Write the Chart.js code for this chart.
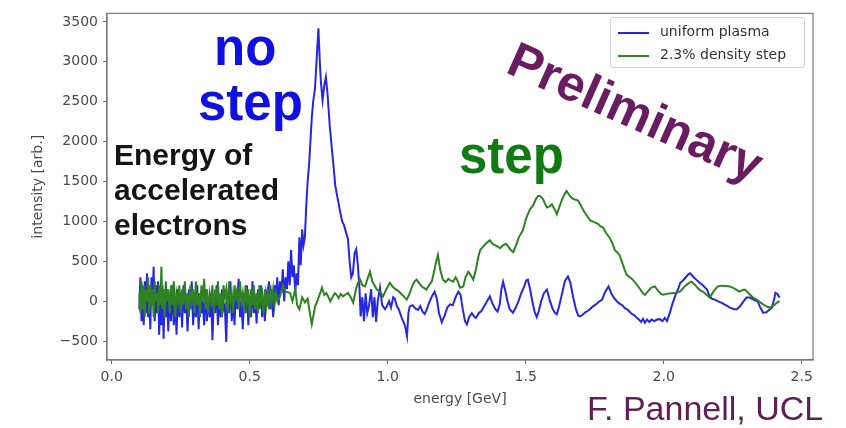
<!DOCTYPE html>
<html>
<head>
<meta charset="utf-8">
<script src="https://cdn.jsdelivr.net/npm/chart.js@4.4.1/dist/chart.umd.min.js"></script>
<style>
    body { margin: 0; background: #fff; }
    #wrap { position: relative; width: 846px; height: 428px; overflow: hidden; }
    .note { position: absolute; font-family: "Liberation Sans", Arial, sans-serif; font-weight: bold; white-space: nowrap; }
    #legend { position: absolute; left: 610px; top: 17px; width: 193px; height: 49px; border: 1px solid #d0d0d0; border-radius: 3px; background: rgba(255,255,255,0.85); font-family: "DejaVu Sans", sans-serif; font-size: 14px; color: #333; }
    .item { position: absolute; left: 7px; height: 20px; }
    .item span.line { position: absolute; left: 0; top: 9px; width: 31px; height: 2px; }
    .item span.txt { position: absolute; left: 42px; top: 0; white-space: nowrap; }
</style>
</head>
<body>
<div id="wrap">
    <canvas id="chart" width="846" height="428"></canvas>
    <div id="legend"></div>
    <div class="note" style="left:214px; top:18px; font-size:51px; color:#1010e0;">no</div>
    <div class="note" style="left:198px; top:73px; font-size:51px; color:#1010e0;">step</div>
    <div class="note" style="left:114px; top:137px; font-size:30px; line-height:35px; color:#151515;">Energy of<br>accelerated<br>electrons</div>
    <div class="note" style="left:459px; top:126px; font-size:51px; color:#127a12;">step</div>
    <div class="note" style="left:523px; top:30px; font-size:50px; color:#6a1c60; transform: rotate(24deg); transform-origin: 0 0;">Preliminary</div>
    <div class="note" style="left:587px; top:389px; font-size:34px; font-weight:normal; color:#5e1f55;">F. Pannell, UCL</div>
</div>
<script>
// uniform plasma (blue)
const blueE = [0.100,0.104,0.108,0.112,0.116,0.120,0.124,0.128,0.132,0.136,0.140,0.144,0.148,0.152,0.156,0.160,0.164,0.168,0.172,0.176,
    0.180,0.184,0.188,0.192,0.196,0.200,0.205,0.210,0.215,0.220,0.225,0.230,0.235,0.240,0.245,0.250,0.255,0.260,0.265,0.270,
    0.275,0.280,0.285,0.290,0.295,0.300,0.305,0.310,0.315,0.320,0.325,0.330,0.335,0.340,0.345,0.350,0.355,0.360,0.365,0.370,
    0.375,0.380,0.385,0.390,0.395,0.400,0.405,0.410,0.415,0.420,0.425,0.430,0.435,0.440,0.445,0.450,0.455,0.460,0.465,0.470,
    0.475,0.480,0.485,0.490,0.495,0.500,0.505,0.510,0.515,0.520,0.525,0.530,0.535,0.540,0.545,0.550,0.555,0.560,0.565,0.570,
    0.575,0.580,0.585,0.590,0.595,0.600,0.605,0.610,0.615,0.620,0.625,0.630,0.635,0.640,0.645,0.650,0.655,0.660,0.665,0.670,
    0.675,0.680,0.685,0.690,0.695,0.700,0.705,0.710,0.715,0.720,0.725,0.730,0.737,0.742,0.749,0.754,0.758,0.764,0.770,0.776,
    0.782,0.790,0.798,0.805,0.810,0.818,0.827,0.835,0.842,0.850,0.856,0.862,0.868,0.874,0.880,0.886,0.892,0.898,0.902,0.908,
    0.914,0.920,0.926,0.932,0.940,0.946,0.952,0.958,0.964,0.972,0.980,0.990,0.997,1.005,1.012,1.020,1.026,1.033,1.040,1.050,
    1.063,1.070,1.075,1.080,1.090,1.100,1.110,1.118,1.126,1.134,1.142,1.150,1.160,1.170,1.178,1.186,1.196,1.206,1.216,1.226,
    1.236,1.246,1.256,1.264,1.272,1.280,1.287,1.295,1.305,1.315,1.320,1.330,1.340,1.350,1.360,1.370,1.380,1.390,1.398,1.406,
    1.412,1.418,1.426,1.434,1.442,1.454,1.464,1.474,1.484,1.494,1.502,1.508,1.516,1.524,1.532,1.540,1.548,1.556,1.566,1.577,
    1.588,1.598,1.606,1.613,1.622,1.632,1.642,1.653,1.662,1.672,1.682,1.690,1.697,1.706,1.716,1.726,1.736,1.744,1.754,1.764,
    1.777,1.788,1.800,1.810,1.820,1.830,1.840,1.850,1.860,1.867,1.876,1.884,1.892,1.900,1.910,1.918,1.925,1.932,1.940,1.948,
    1.956,1.966,1.976,1.986,1.996,2.004,2.012,2.022,2.032,2.042,2.052,2.060,2.070,2.080,2.090,2.096,2.106,2.118,2.130,2.142,
    2.150,2.157,2.166,2.175,2.185,2.196,2.210,2.225,2.240,2.255,2.265,2.275,2.290,2.300,2.313,2.325,2.340,2.350,2.360,2.372,
    2.385,2.392,2.400,2.405,2.412,2.420];
const blueI = [-100,300,-250,150,-300,250,-150,350,-200,100,-350,300,50,430,-250,200,-150,250,-420,100,
    -300,200,-470,50,-200,150,-380,100,-250,200,-300,50,-420,150,-200,100,-330,200,-150,0,
    -380,150,-100,250,-300,50,-200,200,-350,100,-150,0,-300,150,-250,50,-200,100,-490,50,
    -150,200,-300,80,-200,150,-100,-50,-510,100,-150,250,-250,50,-300,150,-100,280,-200,0,
    -350,100,-150,200,-300,50,-200,250,-150,50,-280,150,-100,200,-200,50,-250,100,0,250,
    -100,150,-200,200,50,300,-50,250,100,400,0,300,150,500,200,640,300,450,100,350,
    200,800,450,900,700,800,1200,1500,1700,2000,2300,2500,2680,3000,3420,3000,2750,2520,2700,2810,
    2600,2200,1900,1650,1450,1300,1135,1000,950,850,780,500,300,350,600,650,450,150,-190,50,
    -250,100,-150,-65,150,-200,50,-260,0,170,-50,-100,-65,0,-80,50,30,-60,-100,-200,
    -310,-440,-150,-65,-50,-90,-110,-60,-130,-160,-100,-20,60,120,30,-150,-265,-180,-80,-40,
    -50,50,120,80,-100,-250,-290,-200,-150,-200,-210,-150,-120,-60,0,60,-30,-100,-130,-40,
    150,245,130,0,-100,-145,-80,0,100,180,260,270,150,0,-130,-200,-120,0,100,145,
    0,-100,-145,-165,-50,100,250,310,230,50,-100,-180,-190,-170,-140,-120,-90,-65,-40,-10,
    20,120,185,100,40,0,-30,-50,-90,-100,-130,-160,-170,-200,-230,-260,-220,-270,-230,-260,
    -230,-250,-230,-225,-250,-210,-250,-150,-30,70,150,230,260,300,340,350,310,270,230,200,
    170,145,60,30,20,0,-20,-50,-80,-100,-100,-70,0,45,45,20,0,-80,-145,-140,
    -100,-80,20,105,90,45];

// 2.3% density step (green)
const greenE = [0.100,0.104,0.108,0.112,0.116,0.120,0.124,0.128,0.132,0.136,0.140,0.144,0.148,0.152,0.156,0.160,0.164,0.168,0.172,0.176,
    0.180,0.184,0.188,0.192,0.196,0.200,0.205,0.210,0.215,0.220,0.225,0.230,0.235,0.240,0.245,0.250,0.255,0.260,0.265,0.270,
    0.275,0.280,0.285,0.290,0.295,0.300,0.305,0.310,0.315,0.320,0.325,0.330,0.335,0.340,0.345,0.350,0.355,0.360,0.365,0.370,
    0.375,0.380,0.385,0.390,0.395,0.400,0.405,0.410,0.415,0.420,0.425,0.430,0.435,0.440,0.445,0.450,0.455,0.460,0.465,0.470,
    0.475,0.480,0.485,0.490,0.495,0.500,0.505,0.510,0.515,0.520,0.525,0.530,0.535,0.540,0.545,0.550,0.555,0.560,0.565,0.570,
    0.575,0.580,0.585,0.590,0.595,0.600,0.610,0.620,0.630,0.646,0.655,0.665,0.672,0.680,0.690,0.700,0.710,0.718,0.725,0.737,
    0.745,0.755,0.762,0.770,0.778,0.784,0.792,0.800,0.808,0.815,0.822,0.830,0.838,0.846,0.856,0.866,0.875,0.885,0.892,0.900,
    0.908,0.918,0.926,0.936,0.944,0.952,0.960,0.972,0.983,0.995,1.008,1.018,1.028,1.038,1.045,1.058,1.069,1.080,1.090,1.098,
    1.105,1.115,1.125,1.134,1.140,1.150,1.160,1.170,1.176,1.182,1.190,1.200,1.210,1.220,1.228,1.237,1.246,1.254,1.262,1.274,
    1.282,1.292,1.300,1.310,1.320,1.328,1.335,1.345,1.355,1.370,1.380,1.390,1.400,1.407,1.418,1.428,1.436,1.446,1.455,1.465,
    1.475,1.490,1.497,1.503,1.515,1.527,1.537,1.545,1.552,1.563,1.570,1.577,1.588,1.595,1.605,1.613,1.622,1.632,1.642,1.648,
    1.656,1.665,1.673,1.690,1.700,1.712,1.724,1.735,1.748,1.762,1.770,1.780,1.790,1.805,1.815,1.823,1.832,1.840,1.850,1.858,
    1.866,1.877,1.888,1.900,1.915,1.925,1.932,1.942,1.955,1.968,1.980,1.990,1.998,2.015,2.030,2.048,2.062,2.075,2.088,2.100,
    2.112,2.125,2.135,2.142,2.155,2.167,2.180,2.196,2.210,2.225,2.240,2.255,2.270,2.276,2.288,2.295,2.310,2.324,2.340,2.360,
    2.375,2.385,2.400,2.410,2.420];
const greenI = [100,-150,250,-100,200,-200,150,0,300,-150,200,-50,150,-200,250,0,100,-150,200,-50,
    430,-100,150,-200,250,0,150,-150,200,-50,250,-200,100,0,200,-150,150,-50,250,-100,
    100,-200,200,0,150,-150,250,-50,100,-200,200,0,280,-100,150,-150,100,0,200,-150,
    150,-50,250,-100,100,-200,200,50,150,-150,250,0,100,-150,200,50,150,-100,250,0,
    100,-150,200,0,150,-200,150,-50,200,-100,100,-150,200,0,100,-150,150,-50,100,-100,
    200,0,150,-50,100,0,60,200,120,105,0,150,-50,-100,50,-15,30,-150,-290,-65,
    0,100,170,80,100,60,0,50,100,80,40,90,60,80,105,50,-20,150,230,270,
    200,185,270,370,250,200,150,120,60,150,230,180,150,130,105,60,20,100,200,250,
    270,220,180,160,145,200,250,400,500,580,400,270,240,280,260,245,300,250,170,185,
    300,370,330,270,400,550,640,680,720,765,720,700,680,665,700,720,690,640,615,700,
    800,890,980,1050,1150,1200,1280,1320,1320,1280,1220,1175,1190,1215,1150,1090,1180,1280,1350,1380,
    1340,1300,1280,1260,1200,1120,1060,1010,990,970,940,925,860,790,720,640,610,580,480,400,
    330,300,270,220,150,100,80,120,170,185,130,90,80,95,100,105,130,180,220,245,
    210,160,130,120,80,45,120,185,195,190,185,160,130,120,145,145,90,45,10,-40,
    -70,-80,-50,-20,0];

const seriesLabels = ['uniform plasma', '2.3% density step'];
const seriesColors = ['#2626e6', '#2f8224'];

const xTicks = [0.0, 0.5, 1.0, 1.5, 2.0, 2.5];
const yTicks = [-500, 0, 500, 1000, 1500, 2000, 2500, 3000, 3500];

const pts = (xs, ys) => xs.map((x, i) => ({ x: x, y: ys[i] }));

// matplotlib style box round the plot area
const framePlugin = {
    id: 'frame',
    afterDraw(chart) {
        const a = chart.chartArea;
        const ctx = chart.ctx;
        ctx.save();
        ctx.strokeStyle = '#7a7a7a';
        ctx.lineWidth = 1.2;
        ctx.strokeRect(a.left, a.top, a.right - a.left, a.bottom - a.top);
        ctx.restore();
    }
};

const tickFont = { family: 'DejaVu Sans', size: 14 };

const chart = new Chart(document.getElementById('chart'), {
    type: 'line',
    data: {
        datasets: [
            { label: seriesLabels[0], data: pts(blueE, blueI), borderColor: seriesColors[0], borderWidth: 2, pointRadius: 0, order: 1 },
            { label: seriesLabels[1], data: pts(greenE, greenI), borderColor: seriesColors[1], borderWidth: 2, pointRadius: 0, order: 0 }
        ]
    },
    options: {
        responsive: false,
        animation: false,
        layout: { padding: { left: 0, top: 10, right: 33, bottom: 0 } },
        plugins: { legend: { display: false }, tooltip: { enabled: false } },
        scales: {
            x: {
                type: 'linear',
                min: -0.017,
                max: 2.541,
                afterBuildTicks: s => { s.ticks = xTicks.map(v => ({ value: v })); },
                grid: { drawOnChartArea: false, drawTicks: true, tickLength: 4, color: '#666' },
                border: { display: true, color: '#7a7a7a', width: 1.2 },
                ticks: {
                    maxRotation: 0, padding: 5, autoSkip: false,
                    color: '#4a4a4a', font: tickFont,
                    callback: v => v.toFixed(1)
                },
                title: { display: true, text: 'energy [GeV]', color: '#4a4a4a', font: tickFont, padding: { top: 0, bottom: 20 } },
                afterFit: s => { s.height = 68; }
            },
            y: {
                min: -737,
                max: 3607,
                afterBuildTicks: s => { s.ticks = yTicks.map(v => ({ value: v })); },
                grid: { drawOnChartArea: false, drawTicks: true, tickLength: 4, color: '#666' },
                border: { display: true, color: '#7a7a7a', width: 1.2 },
                ticks: {
                    padding: 5, autoSkip: false,
                    color: '#4a4a4a', font: tickFont,
                    callback: v => v < 0 ? '\u2212' + Math.abs(v) : String(v)
                },
                title: { display: true, text: 'intensity [arb.]', color: '#4a4a4a', font: tickFont, padding: { top: 30, bottom: 0 } },
                afterFit: s => { s.width = 107; }
            }
        }
    },
    plugins: [framePlugin]
});

// legend inside the plot, built from the datasets
const legend = document.getElementById('legend');
chart.data.datasets.forEach((ds, i) => {
    const item = document.createElement('div');
    item.className = 'item';
    item.style.top = (5 + i * 23) + 'px';
    item.innerHTML = '<span class="line" style="background:' + ds.borderColor + '"></span><span class="txt">' + ds.label + '</span>';
    legend.appendChild(item);
});
</script>
</body>
</html>
